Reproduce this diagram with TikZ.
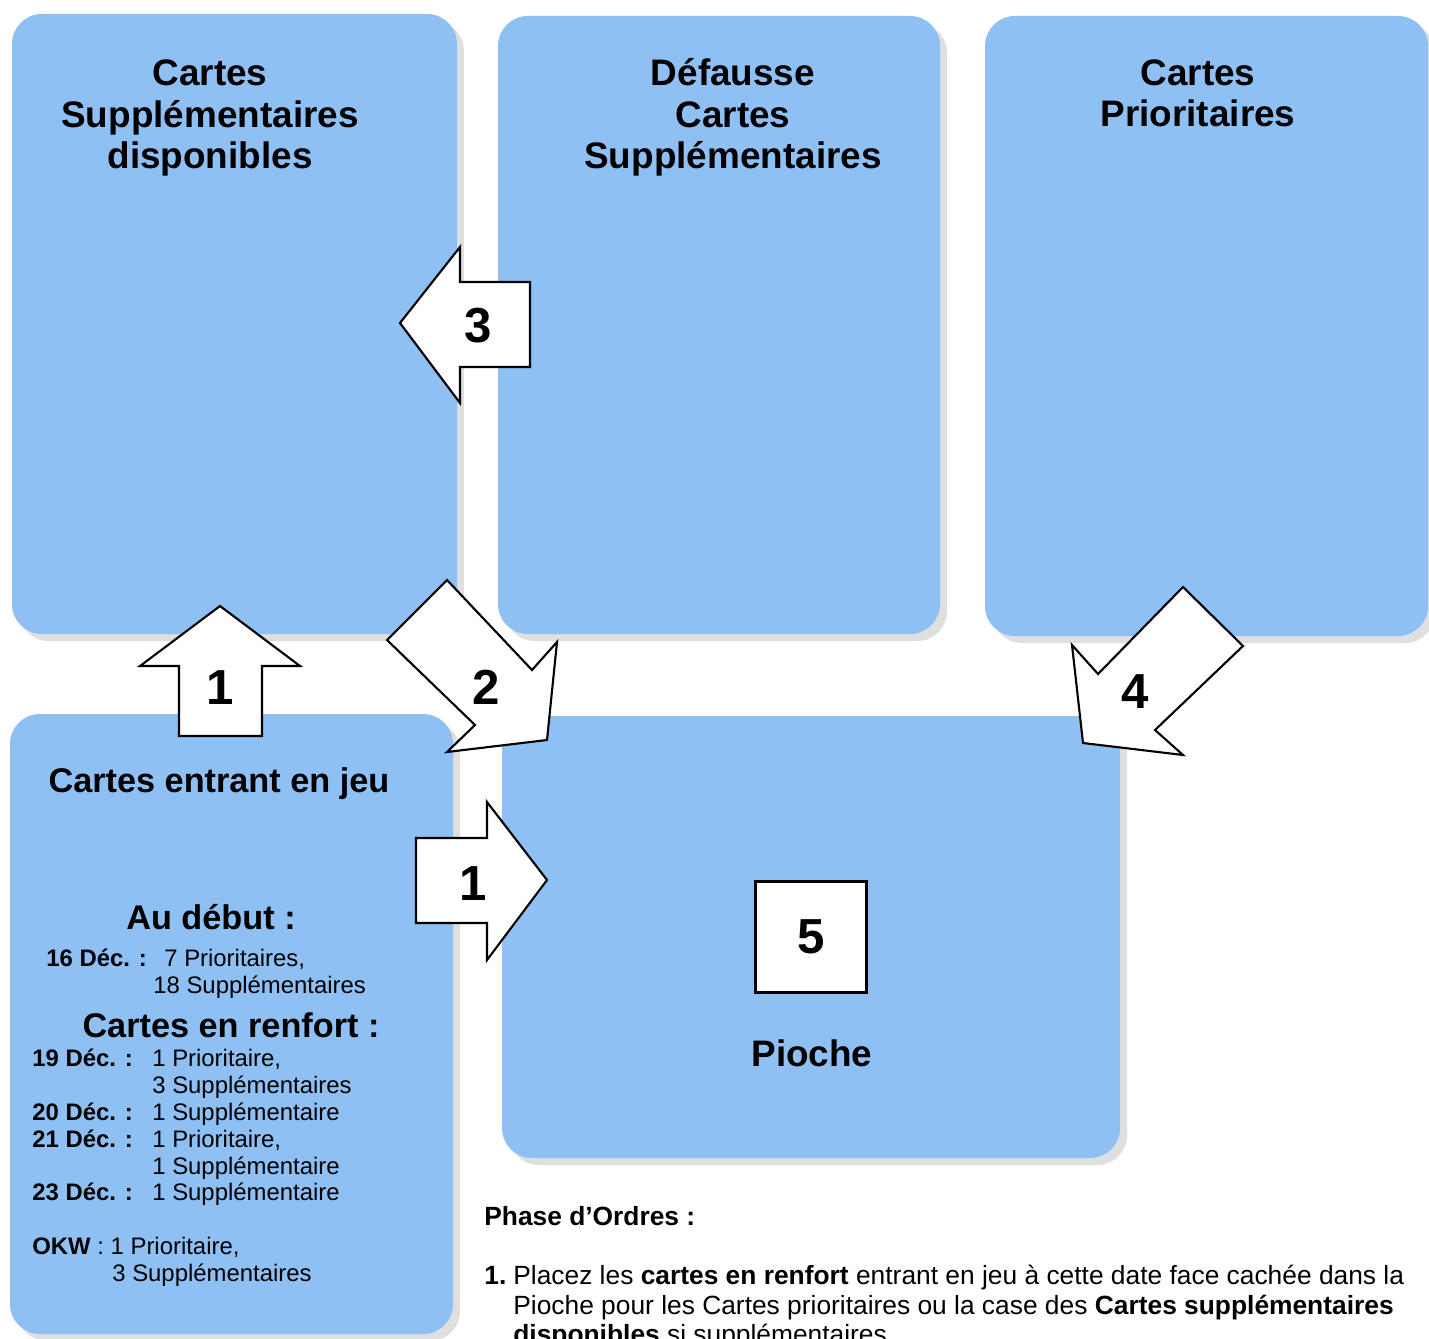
\documentclass[tikz,border=0pt]{standalone}
\usepackage{fontspec}
\setmainfont{Liberation Sans}
\usetikzlibrary{shadows,fit}
\definecolor{cardblue}{RGB}{142,192,244}

\begin{document}
\begin{tikzpicture}[x=0.02cm,y=-0.02cm]
            \tikzstyle{card box}=[fill=cardblue,rounded corners=17pt,inner sep=0pt,drop shadow={shadow xshift=4pt,shadow yshift=-4pt,opacity=0.25}]
            \tikzstyle{card title}=[align=center,anchor=base,inner sep=0pt,font=\bfseries\fontsize{21}{23.8}\selectfont]
            \tikzstyle{sub title}=[anchor=base,inner sep=0pt,font=\bfseries\fontsize{19.5}{22}\selectfont]
            \tikzstyle{small text}=[anchor=base west,inner sep=0pt,font=\fontsize{13.6}{15}\selectfont]
            \tikzstyle{phase text}=[anchor=base west,inner sep=0pt,font=\fontsize{15}{17}\selectfont]
            \tikzstyle{big arrow}=[draw=black,fill=white,line width=1.2pt,line join=miter]
            \tikzstyle{arrow num}=[anchor=base,inner sep=0pt,font=\bfseries\fontsize{28}{30}\selectfont]
            \useasboundingbox[fill=white] (0,0) rectangle (1429,1338);
            \node[card box,fit={(12,14) (457,634)}] (dispo) {};
            \node[card box,fit={(498,16) (940,634)}] (defausse) {};
            \node[card box,fit={(985,16) (1428,636)}] (prio) {};
            \node[card box,fit={(10,714) (453,1334)}] (entrant) {};
            \node[card box,fit={(502,716) (1120,1158)}] (pioche) {};
            \node[card title] (t-dispo) at (210,169) {Cartes\\Supplémentaires\\disponibles};
            \node[card title] (t-defausse) at (733,169) {Défausse\\Cartes\\Supplémentaires};
            \node[card title] (t-prio) at (1198,127) {Cartes\\Prioritaires};
            \node[card title] (t-pioche) at (812,1066) {Pioche};
            \node[sub title] (t-entrant) at (219,792) {Cartes entrant en jeu};
            \node[sub title] (t-debut) at (211,929) {Au début :};
            \node[sub title] (t-renfort) at (231,1037) {Cartes en renfort :};
            \node[small text] (d16) at (46,966) {\textbf{16 Déc. :}};
            \node[small text] (v16a) at (164,966) {7 Prioritaires,};
            \node[small text] (v16b) at (153,993) {18 Supplémentaires};
            \node[small text] (d19) at (32,1066) {\textbf{19 Déc. :}};
            \node[small text] (v19a) at (152,1066) {1 Prioritaire,};
            \node[small text] (v19b) at (152,1093) {3 Supplémentaires};
            \node[small text] (d20) at (32,1120) {\textbf{20 Déc. :}};
            \node[small text] (v20) at (152,1120) {1 Supplémentaire};
            \node[small text] (d21) at (32,1147) {\textbf{21 Déc. :}};
            \node[small text] (v21a) at (152,1147) {1 Prioritaire,};
            \node[small text] (v21b) at (152,1174) {1 Supplémentaire};
            \node[small text] (d23) at (32,1200) {\textbf{23 Déc. :}};
            \node[small text] (v23) at (152,1200) {1 Supplémentaire};
            \node[small text] (okw) at (32,1254) {\textbf{OKW} : 1 Prioritaire,};
            \node[small text] (okwb) at (112,1281) {3 Supplémentaires};
            \node[phase text] (phase) at (484,1225) {\textbf{Phase d’Ordres :}};
            \node[phase text] (n1) at (484,1284) {\textbf{1.}};
            \node[phase text] (l1) at (513,1284) {Placez les \textbf{cartes en renfort} entrant en jeu à cette date face cachée dans la};
            \node[phase text] (l2) at (513,1314) {Pioche pour les Cartes prioritaires ou la case des \textbf{Cartes supplémentaires}};
            \node[phase text] (l3) at (513,1343) {\textbf{disponibles} si supplémentaires};
            \draw[big arrow] (220,606) -- (300,666) -- (262,666) -- (262,736) -- (179,736) -- (179,666) -- (140,666) -- cycle;
            \node[arrow num] (a1up) at (220,704) {1};
            \draw[big arrow] (547,880) -- (487,960) -- (487,923) -- (416,923) -- (416,838) -- (487,838) -- (487,802) -- cycle;
            \node[arrow num] (a1right) at (473,900) {1};
            \draw[big arrow] (400,323) -- (460,247) -- (460,282) -- (530,282) -- (530,367) -- (460,367) -- (460,403) -- cycle;
            \node[arrow num] (a3) at (478,342) {3};
            \draw[big arrow] (447,580) -- (532,670) -- (557,642) -- (547,740) -- (447,752) -- (475,725) -- (387,640) -- cycle;
            \node[arrow num] (a2) at (486,704) {2};
            \draw[big arrow] (1183,587) -- (1243,646) -- (1155,730) -- (1183,755) -- (1083,743) -- (1072,645) -- (1098,674) -- cycle;
            \node[arrow num] (a4) at (1135,708) {4};
            \node[draw=black,fill=white,line width=1.2pt,minimum size=2.22cm,inner sep=0pt,font=\bfseries\fontsize{28}{30}\selectfont] (step5) at (811,937) {5};
\end{tikzpicture}
\end{document}
